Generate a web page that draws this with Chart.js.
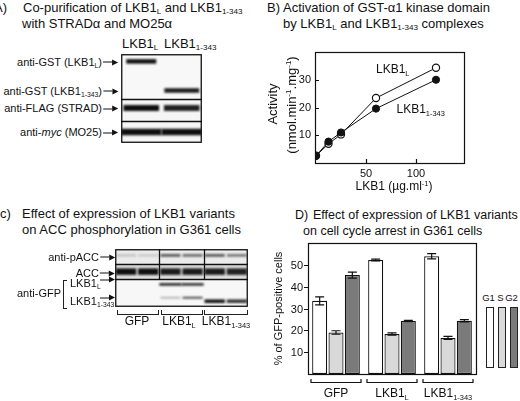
<!DOCTYPE html>
<html lang="en">
<head>
<meta charset="UTF-8">
<title>LKB1 variants</title>
<script src="https://cdn.jsdelivr.net/npm/chart.js"></script>
<style>
    body { margin: 0; background: #fff; }
    #fig {
        position: relative;
        width: 520px;
        height: 401px;
        overflow: hidden;
        background: #fff;
        font-family: "Liberation Sans", Arial, sans-serif;
        color: #111;
    }
    #fig canvas { position: absolute; }
    .t { position: absolute; white-space: nowrap; line-height: 1; }
    sub { font-size: 0.62em; vertical-align: -0.35em; line-height: 0; }
    sup { font-size: 0.62em; vertical-align: 0.6em; line-height: 0; }
    .ar {
        display: inline-block;
        position: relative;
        width: 9px;
        height: 1.2px;
        margin: 0 6px 0 1px;
        background: #111;
        vertical-align: middle;
    }
    .ar:after {
        content: '';
        position: absolute;
        left: 9px;
        top: -2.4px;
        border-left: 6px solid #111;
        border-top: 3px solid transparent;
        border-bottom: 3px solid transparent;
    }
    .brk { position: absolute; border: 1px solid #222; border-top: none; height: 4px; }
    .lbr { position: absolute; border: 1px solid #222; border-right: none; width: 3px; }
    .key { position: absolute; border: 1px solid #222; width: 6px; height: 59px; }
</style>
</head>
<body>
<div id="fig"></div>

<script>
    // ---- panel B : activation of GST-a1 kinase domain ----
    const doseX = [0, 12.5, 25, 60, 120];              // LKB1 (ug/ml)
    const actFull = [2.6, 6.9, 10.3, 23.4, 34.3];      // LKB1L (open circles)
    const actTrunc = [2.6, 7.7, 11.0, 19.6, 30.0];     // LKB1 1-343 (filled circles)
    const actXTicks = [50, 100];
    const actYTicks = [10, 20, 30];

    // ---- panel D : cell cycle arrest ----
    const groups = ['GFP', 'LKB1<sub>L</sub>', 'LKB1<sub>1-343</sub>'];
    const phases = ['G1', 'S', 'G2'];
    const g1 = [33.5, 52.2, 53.9];
    const g1Err = [1.8, 0.4, 1.2];
    const sPhase = [19.0, 18.3, 16.5];
    const sErr = [0.8, 0.5, 0.7];
    const g2 = [45.3, 24.3, 24.4];
    const g2Err = [1.4, 0.3, 0.5];
    const pctTicks = [10, 20, 30, 40, 50];

    // ---- panel A blot (lanes x bands, level 0..1) ----
    const blotALanes = ['LKB1L', 'LKB1 1-343'];
    const blotABands = ['GST (LKB1L)', 'GST (LKB1 1-343)', 'FLAG (STRAD)', 'myc (MO25)'];
    const blotAPos = [8.3, 40.9, 60.7, 87.6];
    const blotALevel = [[1, 0], [0, 0.95], [1, 0.92], [1, 1]];
    const blotAStrips = [50.6, 75.3];

    // ---- panel C blot ----
    const blotCLanes = ['GFP', 'GFP', 'LKB1L', 'LKB1L', 'LKB1 1-343', 'LKB1 1-343'];
    const blotCBands = ['pACC', 'ACC', 'LKB1L', 'LKB1L lower', 'LKB1 1-343'];
    const blotCPos = [11, 39, 61, 84, 90];
    const blotCLevel = [
        [0.22, 0.2, 0.75, 0.65, 0.75, 0.6],
        [1, 1, 0.95, 0.95, 0.95, 0.92],
        [0, 0, 0.95, 0.9, 0, 0],
        [0, 0, 0.3, 0.8, 0, 0],
        [0, 0, 0, 0, 1, 0.85]
    ];
    const blotCStrips = [26.5, 52.1];

    const FONT = '"Liberation Sans", Arial, sans-serif';
    Chart.defaults.font.family = FONT;
    Chart.defaults.color = '#111';

    const fig = document.getElementById('fig');

    function txt(html, x, y, size, align, rot) {
        const d = document.createElement('div');
        d.className = 't';
        d.innerHTML = html;
        d.style.left = x + 'px';
        d.style.top = y + 'px';
        d.style.fontSize = size + 'px';
        const ax = align === 'r' ? '-100%' : align === 'c' ? '-50%' : '0';
        d.style.transform = rot ? 'translate(-50%,-50%) rotate(-90deg)' : `translate(${ax},-50%)`;
        fig.appendChild(d);
        return d;
    }

    function box(cls, x, y, w, h) {
        const d = document.createElement('div');
        d.className = cls;
        d.style.left = x + 'px';
        d.style.top = y + 'px';
        if (w != null) d.style.width = w + 'px';
        if (h != null) d.style.height = h + 'px';
        fig.appendChild(d);
        return d;
    }

    function makeCanvas(x, y, w, h) {
        const c = document.createElement('canvas');
        c.width = w;
        c.height = h;
        c.style.left = x + 'px';
        c.style.top = y + 'px';
        c.style.width = w + 'px';
        c.style.height = h + 'px';
        fig.appendChild(c);
        return c;
    }

    const base = {
        responsive: false,
        animation: false,
        devicePixelRatio: 1,
        events: [],
        plugins: { legend: { display: false }, tooltip: { enabled: false } }
    };

    const ARROW = '<span class="ar"></span>';

    // ---------- titles ----------
    txt('A)', 7, 7, 13, 'r');
    txt('Co-purification of LKB1<sub>L</sub> and LKB1<sub>1-343</sub>', 23, 7, 13);
    txt('with STRAD&alpha; and MO25&alpha;', 22, 23, 13);

    txt('B)', 267, 7, 13);
    txt('Activation of GST-&alpha;1 kinase domain', 283, 7, 13);
    txt('by LKB1<sub>L</sub> and LKB1<sub>1-343</sub> complexes', 283, 23, 13);

    txt('c)', 0, 213, 13);
    txt('Effect of expression of LKB1 variants', 22, 213, 13);
    txt('on ACC phosphorylation in G361 cells', 22, 229, 13);

    txt('D)', 295, 215, 12.5);
    txt('Effect of expression of LKB1 variants', 313, 215, 12.5);
    txt('on cell cycle arrest in G361 cells', 303, 231, 12.5);

    // ---------- blots ----------
    function shade(v) {
        const g = Math.round(246 - 232 * v);
        return `rgb(${g},${g},${g})`;
    }

    function bandSets(pos, level, thick, span) {
        const sets = [];
        pos.forEach((p, r) => {
            level[r].forEach((v, lane) => {
                if (!v) return;
                const half = span[r] / 2;
                sets.push({
                    data: [{ x: lane + 0.5 - half, y: p }, { x: lane + 0.5 + half, y: p }],
                    borderColor: shade(v),
                    borderWidth: thick[r],
                    borderCapStyle: 'butt',
                    pointRadius: 0,
                    tension: 0,
                    fill: false
                });
            });
        });
        return sets;
    }

    const blotPlugin = {
        id: 'blot',
        beforeDatasetsDraw(chart, a, o) {
            const { ctx, chartArea: ca, scales: { y } } = chart;
            const edges = [y.min, ...o.strips, y.max];
            ctx.save();
            for (let i = 0; i < edges.length - 1; i++) {
                const y0 = y.getPixelForValue(edges[i]);
                const y1 = y.getPixelForValue(edges[i + 1]);
                ctx.fillStyle = o.fills[i];
                ctx.fillRect(ca.left, y0, ca.width, y1 - y0);
            }
            ctx.restore();
            ctx.save();
            ctx.filter = 'blur(0.8px)';
        },
        afterDatasetsDraw(chart, a, o) {
            const { ctx, chartArea: ca, scales: { x, y } } = chart;
            ctx.restore();
            ctx.save();
            ctx.strokeStyle = '#111';
            ctx.lineWidth = 1.3;
            o.strips.forEach(v => {
                const py = Math.round(y.getPixelForValue(v)) + 0.5;
                ctx.beginPath();
                ctx.moveTo(ca.left, py);
                ctx.lineTo(ca.right, py);
                ctx.stroke();
            });
            (o.seps || []).forEach(s => {
                const px = Math.round(x.getPixelForValue(s.x)) + 0.5;
                ctx.beginPath();
                ctx.moveTo(px, y.getPixelForValue(s.from));
                ctx.lineTo(px, y.getPixelForValue(s.to));
                ctx.stroke();
            });
            ctx.strokeRect(ca.left + 0.75, ca.top + 0.75, ca.width - 1.5, ca.height - 1.5);
            ctx.restore();
        }
    };

    function blotChart(canvas, lanes, sets, pluginOpts) {
        return new Chart(canvas, {
            type: 'line',
            data: { datasets: sets },
            options: {
                ...base,
                layout: { padding: 0 },
                plugins: { ...base.plugins, blot: pluginOpts },
                scales: {
                    x: { type: 'linear', display: false, min: 0, max: lanes.length },
                    y: { type: 'linear', display: false, min: 0, max: 100, reverse: true }
                }
            },
            plugins: [blotPlugin]
        });
    }

    blotChart(makeCanvas(121, 54, 81, 89), blotALanes,
        bandSets(blotAPos, blotALevel, [4.5, 4.5, 6, 6.5], [0.74, 0.86, 0.88, 1.0]),
        { strips: blotAStrips, fills: ['#f8f8f8', '#f5f5f5', '#f5f5f5'] });

    blotChart(makeCanvas(115, 249, 133, 58), blotCLanes,
        bandSets(blotCPos, blotCLevel, [2.5, 6.5, 2.5, 1.8, 3.5], [0.9, 0.92, 1.0, 0.9, 0.92]),
        {
            strips: blotCStrips,
            fills: ['#ebebeb', '#dedede', '#f7f7f7'],
            seps: [{ x: 2, from: 0, to: blotCStrips[1] }, { x: 4, from: 0, to: blotCStrips[1] }]
        });

    // blot A labels
    txt('LKB1<sub>L</sub>', 122, 43, 13);
    txt('LKB1<sub>1-343</sub>', 164, 43, 13);
    txt('anti-GST (LKB1<sub>L</sub>)' + ARROW, 118, 61.5, 11, 'r');
    txt('anti-GST (LKB1<sub>1-343</sub>)' + ARROW, 118, 90.5, 11, 'r');
    txt('anti-FLAG (STRAD)' + ARROW, 118, 108.3, 11, 'r');
    txt('anti-<i>myc</i> (MO25)' + ARROW, 118, 132.3, 11, 'r');

    // blot C labels
    txt('anti-pACC' + ARROW, 115, 256.5, 11, 'r');
    txt('ACC' + ARROW, 115, 272.5, 11, 'r');
    txt('anti-GFP', 61, 293, 11, 'r');
    box('lbr', 63, 280, null, 27);
    txt('LKB1<sub>L</sub>', 70, 283, 11);
    txt(ARROW, 115, 279, 11, 'r');
    txt('LKB1<sub>1-343</sub>', 70, 300.5, 11);
    txt(ARROW, 115, 297, 11, 'r');
    box('brk', 116.5, 309.5, 40);
    box('brk', 160.5, 309.5, 40);
    box('brk', 204, 309.5, 42);
    txt('GFP', 137, 320.5, 12, 'c');
    txt('LKB1<sub>L</sub>', 179, 320.5, 12, 'c');
    txt('LKB1<sub>1-343</sub>', 226, 320.5, 12, 'c');

    // ---------- panel B chart ----------
    const framePlugin = {
        id: 'frame',
        beforeDatasetsDraw(chart, a, o) {
            const { ctx, chartArea: ca, scales: { x, y } } = chart;
            ctx.save();
            ctx.strokeStyle = '#111';
            ctx.lineWidth = 1.2;
            ctx.strokeRect(Math.round(ca.left) + 0.5, Math.round(ca.top) + 0.5,
                Math.round(ca.width), Math.round(ca.height));
            if (o.inTicks) {
                ctx.beginPath();
                x.ticks.forEach(t => {
                    const px = Math.round(x.getPixelForValue(t.value)) + 0.5;
                    ctx.moveTo(px, ca.bottom);
                    ctx.lineTo(px, ca.bottom - o.inTicks);
                });
                y.ticks.forEach(t => {
                    const py = Math.round(y.getPixelForValue(t.value)) + 0.5;
                    ctx.moveTo(ca.left, py);
                    ctx.lineTo(ca.left + o.inTicks, py);
                });
                ctx.stroke();
            }
            ctx.restore();
        }
    };

    const pts = ys => doseX.map((x, i) => ({ x: x, y: ys[i] }));

    new Chart(makeCanvas(260, 40, 220, 160), {
        type: 'line',
        data: {
            datasets: [
                {
                    label: 'LKB1 1-343',
                    data: pts(actTrunc),
                    borderColor: '#111',
                    borderWidth: 1,
                    pointRadius: 3.6,
                    pointBackgroundColor: '#111',
                    pointBorderColor: '#111',
                    tension: 0
                },
                {
                    label: 'LKB1L',
                    data: pts(actFull),
                    borderColor: '#111',
                    borderWidth: 1,
                    pointRadius: 3.6,
                    pointBorderWidth: 1.2,
                    pointBackgroundColor: '#fff',
                    pointBorderColor: '#111',
                    tension: 0
                }
            ]
        },
        options: {
            ...base,
            layout: { padding: { top: 12, right: 16, left: 0, bottom: 0 } },
            plugins: { ...base.plugins, frame: { inTicks: 4 } },
            scales: {
                x: {
                    type: 'linear', min: -1, max: 148,
                    afterBuildTicks: s => { s.ticks = actXTicks.map(v => ({ value: v })); },
                    afterFit: s => { s.height = 37; },
                    grid: { display: false, drawTicks: false },
                    border: { display: false },
                    ticks: { font: { size: 11 }, padding: 4, maxRotation: 0 }
                },
                y: {
                    type: 'linear', min: 0, max: 40,
                    afterBuildTicks: s => { s.ticks = actYTicks.map(v => ({ value: v })); },
                    afterFit: s => { s.width = 55; },
                    grid: { display: false, drawTicks: false },
                    border: { display: false },
                    ticks: { font: { size: 11 }, padding: 4 }
                }
            }
        },
        plugins: [framePlugin]
    });

    txt('LKB1<sub>L</sub>', 376, 69, 12);
    txt('LKB1<sub>1-343</sub>', 396.5, 109, 12);
    txt('LKB1 (&micro;g.ml<sup>-1</sup>)', 394, 186, 12, 'c');
    txt('Activity', 272, 104, 13, 'c', true);
    txt('(nmol.min<sup>-1</sup>.mg<sup>-1</sup>)', 291, 105, 13, 'c', true);

    // ---------- panel D chart ----------
    const phaseErr = [g1Err, sErr, g2Err];

    const barDeco = {
        id: 'barDeco',
        afterDatasetsDraw(chart) {
            const { ctx, chartArea: ca, scales: { x, y } } = chart;
            ctx.save();
            ctx.strokeStyle = '#111';
            ctx.lineWidth = 1.2;
            // error bars
            chart.data.datasets.forEach((ds, i) => {
                chart.getDatasetMeta(i).data.forEach((bar, j) => {
                    const v = ds.data[j], e = phaseErr[i][j];
                    const yt = y.getPixelForValue(v + e), yb = y.getPixelForValue(v - e);
                    ctx.beginPath();
                    ctx.moveTo(bar.x, yt); ctx.lineTo(bar.x, yb);
                    ctx.moveTo(bar.x - 4.5, yt); ctx.lineTo(bar.x + 4.5, yt);
                    ctx.moveTo(bar.x - 4.5, yb); ctx.lineTo(bar.x + 4.5, yb);
                    ctx.stroke();
                });
            });
            // frame, outward y ticks and their labels
            ctx.strokeRect(Math.round(ca.left) + 0.5, Math.round(ca.top) + 0.5,
                Math.round(ca.width), Math.round(ca.height));
            ctx.beginPath();
            ctx.fillStyle = '#111';
            ctx.font = '11px ' + FONT;
            ctx.textAlign = 'right';
            ctx.textBaseline = 'middle';
            y.ticks.forEach(t => {
                const py = Math.round(y.getPixelForValue(t.value)) + 0.5;
                ctx.moveTo(ca.left - 4, py);
                ctx.lineTo(ca.left, py);
                ctx.fillText(String(t.value), ca.left - 5, py);
            });
            ctx.stroke();
            // group brackets
            const yb = Math.round(ca.bottom + 8) + 0.5;
            ctx.beginPath();
            groups.forEach((g, i) => {
                const cx = x.getPixelForValue(i);
                ctx.moveTo(cx - 25, yb - 3.5);
                ctx.lineTo(cx - 25, yb);
                ctx.lineTo(cx + 25, yb);
                ctx.lineTo(cx + 25, yb - 3.5);
            });
            ctx.stroke();
            ctx.restore();
        }
    };

    const phaseColors = ['#ffffff', '#d9d9d9', '#7a7a7a'];
    const dCanvas = makeCanvas(260, 235, 220, 166);
    const dChart = new Chart(dCanvas, {
        type: 'bar',
        data: {
            labels: groups,
            datasets: [g1, sPhase, g2].map((vals, i) => ({
                label: phases[i],
                data: vals,
                backgroundColor: phaseColors[i],
                borderColor: '#111',
                borderWidth: 1.2,
                borderSkipped: false,
                barPercentage: 0.92,
                categoryPercentage: 0.875
            }))
        },
        options: {
            ...base,
            layout: { padding: { top: 8, right: 4, left: 0, bottom: 0 } },
            scales: {
                x: {
                    ticks: { display: false },
                    afterFit: s => { s.height = 27; },
                    grid: { display: false, drawTicks: false },
                    border: { display: false }
                },
                y: {
                    type: 'linear', min: 0, max: 60,
                    afterBuildTicks: s => { s.ticks = pctTicks.map(v => ({ value: v })); },
                    afterFit: s => { s.width = 48; },
                    grid: { display: false, drawTicks: false },
                    border: { display: false },
                    ticks: { display: false },
                    title: {
                        display: true,
                        text: '% of GFP-positive cells',
                        color: '#111',
                        font: { size: 11 },
                        padding: { top: 12.5, bottom: 0 }
                    }
                }
            }
        },
        plugins: [barDeco]
    });

    groups.forEach((g, i) => {
        txt(g, 260 + dChart.scales.x.getPixelForValue(i), 393, 12, 'c');
    });

    // phase key
    const keyX = [486, 497.5, 509.5];
    const keyTextX = [488.5, 500.5, 511.5];
    phases.forEach((p, i) => {
        const k = box('key', keyX[i], 306.5);
        k.style.background = phaseColors[i];
        txt(p, keyTextX[i], 298, 9.5, 'c');
    });
</script>
</body>
</html>
